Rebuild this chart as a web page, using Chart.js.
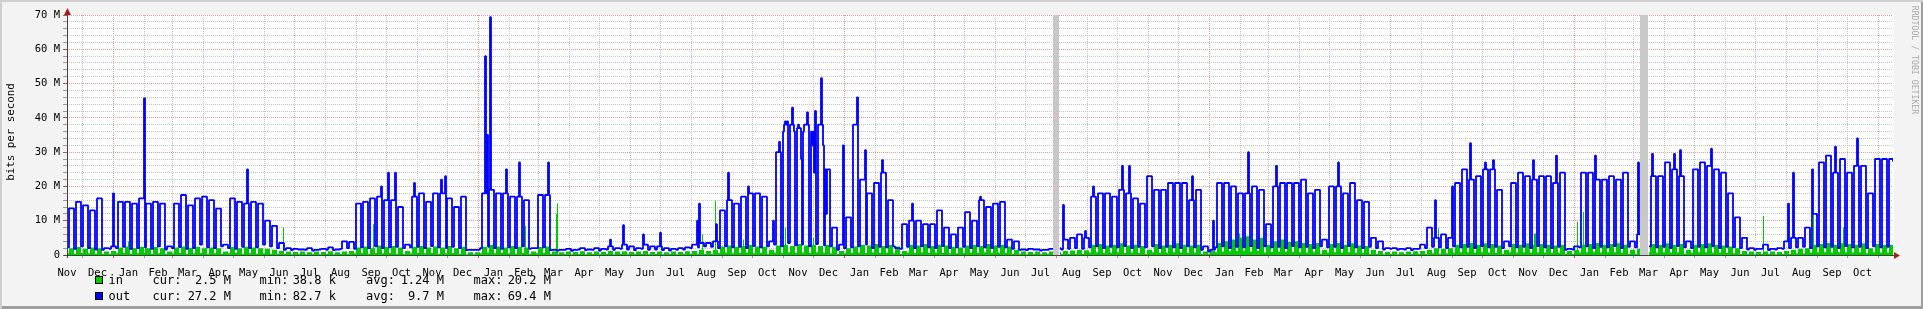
<!DOCTYPE html>
<html>
<head>
<meta charset="UTF-8">
<title>bits per second</title>
<script src="https://cdn.jsdelivr.net/npm/chart.js"></script>
<style>
  html, body { margin: 0; padding: 0; background: #f3f3f3; }
  #wrap {
    position: relative; width: 1923px; height: 309px; overflow: hidden;
    background: #f3f3f3;
    box-shadow: inset 2px 2px 0 #cfcfcf, inset -2px -3px 0 #9e9e9e;
    font-family: 'DejaVu Sans Mono', monospace; color: #000;
  }
  canvas { position: absolute; left: 0; top: 0; }
  .t { position: absolute; white-space: pre; font-size: 12px; line-height: 14px; }
  .r { text-align: right; width: 80px; }
  .box { position: absolute; width: 8px; height: 8px; box-sizing: border-box; border: 1px solid #000; }
  #ytitle {
    position: absolute; left: -89.5px; top: 125px; width: 200px; height: 14px;
    line-height: 14px; text-align: center; font-size: 10.8px; transform: rotate(-90deg);
  }
  #wm {
    position: absolute; left: 1815px; top: 54px; width: 200px; height: 12px;
    line-height: 12px; text-align: center; font-size: 8.2px; color: #a8a8a8; transform: rotate(90deg);
  }
</style>
</head>
<body>
<div id="wrap">
  <canvas id="c" width="1923" height="309"></canvas>
  <div id="ytitle">bits per second</div>
  <div id="wm">RRDTOOL / TOBI OETIKER</div>
</div>
<script>
// one x unit = one day, day 0 = left edge (mid Nov), last day = right edge
const LAST_DAY = 1826;

// month boundaries (days), Nov of first year .. Dec after last
const monthStarts = [-15, 15, 46, 77, 105, 136, 166, 197, 227, 258, 289, 319,
  350, 380, 411, 442, 471, 502, 532, 563, 593, 624, 655, 685,
  716, 746, 777, 808, 836, 867, 897, 928, 958, 989, 1020, 1050,
  1081, 1111, 1142, 1173, 1201, 1232, 1262, 1293, 1323, 1354, 1385, 1415,
  1446, 1476, 1507, 1538, 1566, 1597, 1627, 1658, 1688, 1719, 1750, 1780,
  1811, 1841];
const yearStarts = [46, 411, 777, 1142, 1507];
const monthNames = [
  'Nov','Dec','Jan','Feb','Mar','Apr','May','Jun','Jul','Aug','Sep','Oct',
  'Nov','Dec','Jan','Feb','Mar','Apr','May','Jun','Jul','Aug','Sep','Oct',
  'Nov','Dec','Jan','Feb','Mar','Apr','May','Jun','Jul','Aug','Sep','Oct',
  'Nov','Dec','Jan','Feb','Mar','Apr','May','Jun','Jul','Aug','Sep','Oct',
  'Nov','Dec','Jan','Feb','Mar','Apr','May','Jun','Jul','Aug','Sep','Oct'];
const yGrid = [0, 2, 4, 6, 8, 10, 12, 14, 16, 18, 20, 22, 24, 26, 28, 30, 32, 34,
  36, 38, 40, 42, 44, 46, 48, 50, 52, 54, 56, 58, 60, 62, 64, 66, 68, 70];

// days without data (drawn grey)
const unknownSpans = [[986, 992], [1573, 1581]];

// out, Mbit/s: weekday level and weekend level per week
const outHi = [
  13.6, 15.5, 14.5, 13, 16.5, 2, 2.5, 15.5, 15.5, 15,
  16.5, 15, 15.5, 15, 2.5, 15, 17.5, 14.5, 16.5, 17,
  16, 13.5, 3, 16.5, 15.5, 15, 15.5, 15, 10, 8.5,
  3.5, 2, 1.8, 1.6, 2, 1.5, 1.8, 2.2, 1.6, 4,
  3.8, 15, 15.5, 16.5, 17, 16, 16, 14, 3, 17,
  18, 15.5, 18, 18, 16.5, 14, 17, 1.5, 1.5, 18,
  19, 18, 18, 17, 17, 16, 2, 17.5, 17.5, 1.5,
  1.5, 1.8, 1.5, 2, 1.6, 2, 1.8, 2.5, 2, 3,
  2.5, 2, 3, 2.5, 2.5, 2, 1.8, 2, 2.2, 3,
  3.5, 3.5, 4, 13, 16, 15, 17, 18, 18, 17,
  4, 30, 38, 38, 37, 38, 36, 38, 25, 8,
  3, 11, 38, 22, 18, 21, 24, 16, 2, 9,
  10, 10, 9, 9, 13, 8, 6, 8, 12.5, 10,
  16, 14, 15, 15.5, 4.5, 4, 1.6, 1.8, 1.6, 1.5,
  1.8, 2, 4.5, 5, 6, 5, 17, 18, 18, 17,
  19, 18, 16.5, 15, 23, 19, 19, 21, 21, 21,
  16, 19, 2.5, 1.5, 21, 21, 20, 18, 18, 20,
  19, 9, 20, 21, 21, 21, 22, 18, 19, 4.5,
  20, 20, 18, 21, 16, 15.5, 5, 4, 2, 2,
  1.8, 2, 1.8, 3, 8, 5, 6, 5, 21, 25,
  22, 23, 25, 25, 19, 4, 21, 24, 23, 22,
  23, 23, 21, 24, 1.8, 2.5, 24, 24, 22, 22,
  23, 22, 24, 4, 6, 22, 23, 23, 27, 25,
  23, 4, 25, 27, 26, 25, 24, 18, 11, 5,
  2, 1.8, 3, 1.8, 2, 4, 5, 5, 8, 12,
  27, 29, 24, 28, 24, 26, 26, 18, 28, 28,
  28];
const outLo = [
  2.2, 1.8, 2.5, 2, 1.6, 1.5, 1.8, 2, 2.4, 1.8,
  2, 2.2, 1.8, 2.5, 1.6, 2, 2.3, 1.8, 2, 3,
  2.2, 2, 2.5, 2, 1.8, 2.4, 2, 2.2, 3, 2.5,
  2, 1.5, 1.4, 1.6, 1.5, 1.3, 1.6, 1.5, 1.4, 1.8,
  2, 1.8, 2.2, 2, 2.5, 2, 2.2, 2.4, 2, 2.2,
  2.4, 2, 2.6, 2.2, 2, 2.4, 2, 1.4, 1.5, 2,
  2.4, 2, 1.8, 2.2, 2, 2.5, 1.8, 2, 2.2, 1.4,
  1.3, 1.5, 1.2, 1.6, 1.4, 1.5, 1.3, 1.6, 1.5, 1.8,
  1.6, 1.4, 1.8, 1.5, 1.6, 1.4, 1.3, 1.5, 1.6, 2,
  2.2, 2.5, 2.4, 2, 2.5, 2.2, 2.4, 2, 2.6, 2.2,
  2.5, 3, 2.5, 3.5, 2.8, 3, 2.5, 3.2, 2.8, 2.5,
  1.5, 2, 2.2, 2.5, 3, 2, 2.4, 2.2, 2.5, 1.8,
  2.4, 2, 2.5, 2.2, 2, 2.6, 2, 2.2, 2.4, 2,
  2.5, 2.2, 2, 2.4, 2.2, 1.8, 1.5, 1.4, 1.6, 1.3,
  1.5, 1.4, 1.6, 1.8, 2, 1.8, 2.2, 2.5, 2, 2.4,
  2.2, 2.6, 2, 2.4, 2.2, 2.5, 2, 2.4, 2.2, 2,
  2.5, 2.2, 1.5, 1, 2.2, 2.5, 2, 2.4, 2.2, 2.6,
  2, 2.5, 2.2, 2.4, 2, 2.6, 2.2, 2.4, 2, 2.5,
  2.2, 2.4, 2, 2.6, 2.2, 2, 2.4, 2, 1.6, 1.8,
  1.5, 1.6, 1.4, 1.8, 2, 2.4, 2.2, 2, 2.5, 2.2,
  2.4, 2, 2.6, 2.2, 2.4, 2, 2.5, 2.2, 2.4, 2,
  2.6, 2.2, 2, 2.4, 1.5, 1.6, 2.2, 2.5, 2, 2.4,
  2.2, 2.6, 2, 2.4, 2.2, 2, 2.5, 2.2, 2.4, 2,
  2.6, 2.2, 2, 2.4, 2.2, 2.5, 2, 2.4, 2.2, 2,
  1.6, 1.5, 1.8, 1.4, 1.6, 1.8, 2, 2.2, 2.4, 2,
  2.5, 2.2, 2.4, 2, 2.6, 2.2, 2.4, 2, 2.5, 2.2,
  2.4];
// single days that stand out from their week: [day, Mbit/s]
const outDays = [[46, 18], [77, 45.7], [180, 25], [314, 20], [321, 24], [328, 24], [347, 21],
  [374, 22], [378, 23], [418, 58], [420, 35], [423, 69.4], [439, 25], [452, 27], [481, 27],
  [543, 4.5], [556, 8.7], [576, 6], [593, 6.5], [630, 10], [632, 15], [649, 9], [661, 24],
  [681, 20], [706, 10], [712, 33], [716, 36], [718, 39], [720, 39], [725, 43], [727, 36],
  [731, 38], [734, 28], [736, 36], [740, 41.6], [745, 32], [747, 24], [748, 42], [754, 51.6],
  [756, 32], [759, 12], [776, 32],
  [790, 46], [798, 30.6], [815, 27.7], [845, 15], [913, 17], [996, 14.6], [1018, 7], [1026, 20],
  [1055, 26], [1062, 26], [1125, 23], [1146, 10], [1181, 30], [1209, 26], [1271, 27], [1368, 16],
  [1385, 20], [1403, 32.6], [1418, 27], [1426, 27.7], [1466, 27.7], [1489, 29], [1528, 29],
  [1571, 27], [1585, 29.5], [1607, 29.5], [1613, 30.6], [1644, 31], [1721, 15], [1726, 24],
  [1745, 25], [1768, 31.6], [1790, 34], [1826, 27.2]];

// in, Mbit/s
const inHi = [
  2.0, 2.3, 1.8, 2.2, 2.0, 1.0, 1.2, 2.2, 2.5, 2.0,
  2.4, 2.0, 2.3, 2.0, 1.0, 2.2, 2.5, 2.1, 2.4, 2.0,
  2.2, 2.0, 1.0, 2.3, 2.0, 2.4, 2.2, 2.0, 1.8, 1.5,
  1.2, 1.0, 0.9, 1.0, 0.8, 1.0, 0.9, 1.1, 0.8, 1.0,
  1.2, 2.2, 2.5, 2.0, 2.8, 2.4, 2.6, 2.2, 1.2, 2.4,
  2.6, 2.2, 2.5, 2.2, 2.6, 2.0, 2.4, 0.8, 0.8, 2.4,
  3.0, 2.5, 2.2, 2.6, 2.4, 2.2, 1.0, 2.3, 2.5, 1.0,
  0.8, 1.0, 0.9, 1.1, 0.8, 1.0, 0.9, 1.2, 1.0, 1.1,
  0.9, 1.0, 1.2, 0.9, 1.0, 0.8, 1.0, 0.9, 1.1, 1.2,
  1.5, 1.2, 1.5, 2.5, 2.8, 2.4, 2.6, 3.0, 2.5, 2.4,
  1.5, 2.8, 3.0, 2.6, 3.2, 2.8, 3.0, 2.6, 3.0, 2.4,
  1.2, 2.0, 2.5, 3.0, 2.8, 3.2, 2.6, 3.0, 2.5, 1.2,
  3.0, 2.8, 3.2, 2.6, 3.0, 2.8, 2.4, 2.2, 2.8, 3.0,
  2.6, 3.2, 2.8, 3.0, 2.5, 1.5, 1.0, 0.9, 1.0, 0.8,
  1.0, 0.9, 1.2, 1.3, 1.5, 1.4, 3.0, 3.2, 2.8, 3.0,
  3.4, 2.8, 3.0, 2.6, 1.5, 3.2, 2.8, 3.0, 3.4, 3.0,
  2.8, 3.0, 1.0, 1.2, 3.5, 4.0, 4.5, 5.0, 5.5, 4.5,
  5.0, 3.0, 4.0, 4.5, 3.8, 4.0, 3.5, 3.2, 3.5, 1.5,
  3.2, 3.5, 3.0, 3.4, 2.8, 2.6, 1.5, 1.2, 0.9, 1.0,
  0.8, 1.0, 1.1, 1.2, 1.5, 2.0, 1.8, 2.0, 3.0, 3.2,
  3.5, 3.0, 3.4, 3.2, 2.8, 1.5, 3.2, 3.0, 3.4, 3.0,
  3.2, 3.0, 2.8, 3.0, 1.2, 1.5, 3.0, 3.2, 3.5, 3.0,
  3.2, 3.4, 3.0, 1.5, 1.8, 3.0, 3.2, 3.0, 3.4, 3.0,
  3.2, 1.5, 3.0, 3.2, 3.4, 3.0, 2.8, 2.5, 2.0, 1.2,
  1.0, 0.9, 1.0, 1.0, 0.9, 1.2, 1.5, 1.8, 2.0, 3.0,
  3.2, 3.5, 3.0, 3.4, 3.2, 3.0, 3.4, 2.0, 3.2, 3.0,
  3.0];
const inLo = [
  0.5, 0.4, 0.6, 0.5, 0.4, 0.3, 0.3, 0.5, 0.6, 0.4,
  0.5, 0.6, 0.4, 0.5, 0.3, 0.5, 0.6, 0.4, 0.5, 0.6,
  0.4, 0.5, 0.3, 0.5, 0.6, 0.4, 0.5, 0.4, 0.5, 0.4,
  0.3, 0.3, 0.2, 0.3, 0.2, 0.3, 0.2, 0.3, 0.2, 0.3,
  0.3, 0.5, 0.6, 0.4, 0.6, 0.5, 0.6, 0.4, 0.3, 0.5,
  0.6, 0.5, 0.6, 0.4, 0.5, 0.6, 0.4, 0.2, 0.2, 0.5,
  0.7, 0.5, 0.6, 0.5, 0.4, 0.6, 0.3, 0.5, 0.6, 0.3,
  0.2, 0.3, 0.2, 0.3, 0.2, 0.3, 0.2, 0.3, 0.2, 0.3,
  0.2, 0.3, 0.3, 0.2, 0.3, 0.2, 0.3, 0.2, 0.3, 0.3,
  0.4, 0.3, 0.4, 0.6, 0.7, 0.5, 0.6, 0.7, 0.5, 0.6,
  0.4, 0.7, 0.6, 0.8, 0.6, 0.7, 0.6, 0.8, 0.7, 0.5,
  0.3, 0.5, 0.6, 0.7, 0.6, 0.8, 0.6, 0.7, 0.5, 0.3,
  0.7, 0.6, 0.8, 0.6, 0.7, 0.6, 0.5, 0.5, 0.6, 0.7,
  0.6, 0.8, 0.6, 0.7, 0.6, 0.4, 0.3, 0.2, 0.3, 0.2,
  0.3, 0.2, 0.3, 0.3, 0.4, 0.4, 0.7, 0.8, 0.6, 0.7,
  0.8, 0.6, 0.7, 0.6, 0.4, 0.8, 0.6, 0.7, 0.8, 0.7,
  0.6, 0.7, 0.3, 0.3, 0.8, 1.0, 1.1, 1.2, 1.3, 1.0,
  1.2, 0.7, 0.9, 1.0, 0.9, 0.9, 0.8, 0.7, 0.8, 0.4,
  0.7, 0.8, 0.7, 0.8, 0.6, 0.6, 0.4, 0.3, 0.2, 0.3,
  0.2, 0.3, 0.3, 0.3, 0.4, 0.5, 0.4, 0.5, 0.7, 0.8,
  0.8, 0.7, 0.8, 0.7, 0.6, 0.4, 0.8, 0.7, 0.8, 0.7,
  0.8, 0.7, 0.6, 0.7, 0.3, 0.4, 0.7, 0.8, 0.8, 0.7,
  0.8, 0.8, 0.7, 0.4, 0.4, 0.7, 0.8, 0.7, 0.8, 0.7,
  0.8, 0.4, 0.7, 0.8, 0.8, 0.7, 0.7, 0.6, 0.5, 0.3,
  0.3, 0.2, 0.3, 0.3, 0.2, 0.3, 0.4, 0.5, 0.5, 0.7,
  0.8, 0.8, 0.7, 0.8, 0.8, 0.7, 0.8, 0.5, 0.8, 0.7,
  0.7];
const inDays = [[61, 4], [78, 20.2], [90, 4], [181, 12], [216, 8], [306, 9], [458, 8.5],
  [489, 12], [490, 15], [635, 6], [648, 15.8], [676, 4.5], [718, 8], [746, 5], [1172, 6.3],
  [1371, 7.8], [1467, 6.3], [1468, 6.3], [1490, 10], [1510, 9.7], [1516, 12.6], [1583, 9.7],
  [1696, 11.4], [1746, 12], [1776, 8], [1826, 2.5]];

const legendRows = [
  ['in', '#00cc00', '2.5 M', '38.8 k', '1.24 M', '20.2 M'],
  ['out', '#0000ff', '27.2 M', '82.7 k', '9.7 M', '69.4 M']
];

// daily points: first two days of each week are the weekend
function daily(hi, lo, singles) {
  const pts = [];
  for (let d = 0; d <= LAST_DAY; d++) {
    const w = Math.floor(d / 7);
    pts.push({ x: d, y: d % 7 < 2 ? lo[w] : hi[w] });
  }
  singles.forEach(([d, v]) => { pts[d].y = v; });
  unknownSpans.forEach(([a, b]) => { for (let d = a + 1; d <= b; d++) pts[d].y = null; });
  return pts;
}

const unknownPts = [];
unknownSpans.forEach(([a, b]) => {
  unknownPts.push({ x: a, y: 70 }, { x: b, y: 70 }, { x: b + 0.5, y: null });
});

const labelDays = monthNames.map((n, i) => (monthStarts[i] + monthStarts[i + 1]) / 2);

const MINOR = '#c4c4c4';
const MAJOR = '#e29a9a';

const rrdFrame = {
  id: 'rrdFrame',
  beforeDraw(chart) {
    const a = chart.chartArea, c = chart.ctx;
    c.save();
    c.fillStyle = '#ffffff';
    c.fillRect(a.left, a.top, a.right - a.left + 1, a.bottom - a.top);
    c.restore();
  },
  afterDraw(chart) {
    const a = chart.chartArea, c = chart.ctx;
    c.save();
    c.strokeStyle = '#404040';
    c.lineWidth = 1;
    c.beginPath();
    c.moveTo(a.left - 3, a.bottom + 0.5); c.lineTo(a.right + 2, a.bottom + 0.5);
    c.moveTo(a.left + 0.5, a.bottom + 3); c.lineTo(a.left + 0.5, a.top - 3);
    c.stroke();
    c.fillStyle = '#a02020';
    c.beginPath();
    c.moveTo(a.right + 1, a.bottom - 3); c.lineTo(a.right + 7, a.bottom + 0.5); c.lineTo(a.right + 1, a.bottom + 4);
    c.fill();
    c.beginPath();
    c.moveTo(a.left - 3, a.top); c.lineTo(a.left + 0.5, a.top - 7); c.lineTo(a.left + 4, a.top);
    c.fill();
    c.restore();
  }
};

Chart.defaults.font.family = "'DejaVu Sans Mono', monospace";
Chart.defaults.font.size = 10.5;
Chart.defaults.color = '#000';

new Chart(document.getElementById('c'), {
  type: 'line',
  data: {
    datasets: [
      { label: 'out', data: daily(outHi, outLo, outDays), order: 0, stepped: 'before',
        borderColor: '#0000ff', borderWidth: 1.8, borderJoinStyle: 'bevel', pointRadius: 0, fill: false },
      { label: 'in', data: daily(inHi, inLo, inDays), order: 1, stepped: 'before',
        borderColor: '#00cc00', backgroundColor: '#00cc00', borderWidth: 0, pointRadius: 0, fill: 'origin' },
      { label: 'unknown', data: unknownPts, order: 2, stepped: 'before',
        borderWidth: 0, backgroundColor: '#c8c8c8', pointRadius: 0, fill: 'origin' }
    ]
  },
  options: {
    responsive: false,
    animation: false,
    parsing: false,
    normalized: true,
    events: [],
    layout: { padding: { top: 15, right: 30, left: 0, bottom: 0 } },
    plugins: { legend: { display: false }, tooltip: { enabled: false } },
    scales: {
      x: {
        type: 'linear', min: 0, max: LAST_DAY, weight: 0,
        afterBuildTicks: s => { s.ticks = monthStarts.filter(d => d > 0 && d < LAST_DAY).map(v => ({ value: v })); },
        afterFit: s => { s.height = 4; },
        ticks: { display: false },
        grid: {
          color: c => yearStarts.includes(c.tick.value) ? MAJOR : MINOR,
          tickColor: c => yearStarts.includes(c.tick.value) ? '#d04040' : '#999',
          tickLength: 3
        },
        border: { display: false, dash: [1, 1] }
      },
      xl: {
        type: 'linear', position: 'bottom', min: 0, max: LAST_DAY, weight: 1,
        afterBuildTicks: s => { s.ticks = labelDays.map(v => ({ value: v })); },
        afterFit: s => { s.height = 50; },
        grid: { display: false },
        border: { display: false },
        ticks: { autoSkip: false, maxRotation: 0, padding: 0, callback: (v, i) => monthNames[i] }
      },
      y: {
        min: 0, max: 70,
        afterBuildTicks: s => { s.ticks = yGrid.map(v => ({ value: v })); },
        afterFit: s => { s.width = 67; },
        ticks: { autoSkip: false, padding: 3, callback: v => v % 10 ? '' : (v ? v + ' M' : '0') },
        grid: {
          color: c => c.tick.value % 10 === 0 ? MAJOR : MINOR,
          tickColor: c => c.tick.value % 10 === 0 ? '#c05050' : '#999',
          tickLength: 4
        },
        border: { display: false, dash: [1, 1] }
      }
    }
  },
  plugins: [rrdFrame]
});

// legend under the plot
const wrap = document.getElementById('wrap');
function addText(txt, left, top, cls) {
  const s = document.createElement('div');
  s.className = 't' + (cls ? ' ' + cls : '');
  s.textContent = txt;
  s.style.left = left + 'px';
  s.style.top = top + 'px';
  wrap.appendChild(s);
}
legendRows.forEach((row, i) => {
  const top = 273 + i * 15.5;
  const b = document.createElement('div');
  b.className = 'box';
  b.style.background = row[1];
  b.style.left = '95px';
  b.style.top = (top + 3) + 'px';
  wrap.appendChild(b);
  addText(row[0], 108.5, top);
  addText('cur:', 152.5, top);
  addText(row[2], 151, top, 'r');
  addText('min:', 259.5, top);
  addText(row[3], 256, top, 'r');
  addText('avg:', 366, top);
  addText(row[4], 364, top, 'r');
  addText('max:', 473.5, top);
  addText(row[5], 471, top, 'r');
});
</script>
</body>
</html>
